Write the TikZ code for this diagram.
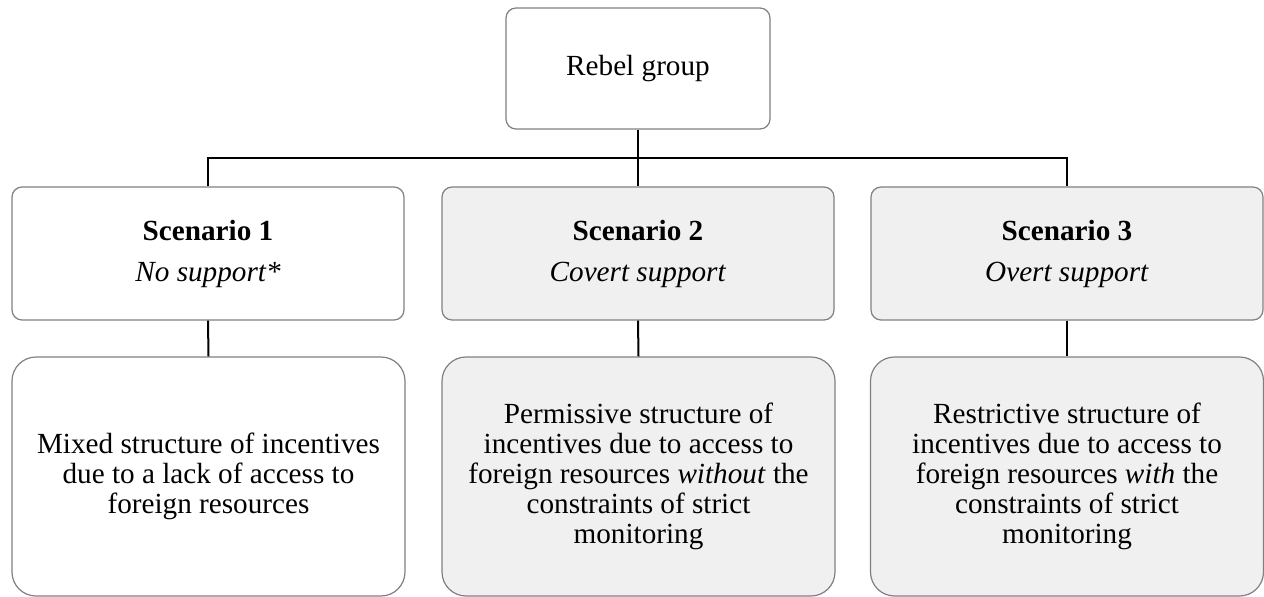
\documentclass[tikz,border=0pt]{standalone}
\usepackage{fontspec}
\setmainfont{Liberation Serif}
\definecolor{boxgray}{HTML}{F0F0F0}
\definecolor{edgegray}{HTML}{808080}
\begin{document}
\begin{tikzpicture}[x=1pt,y=-1pt,
  box/.style={draw=edgegray, line width=1.2pt, rounded corners=10pt, align=center, inner sep=0pt},
  topbox/.style={box, fill=white, minimum width=264pt, minimum height=121pt, font=\fontsize{29.2}{30}\selectfont},
  scen/.style={box, minimum width=392pt, minimum height=133pt, font=\fontsize{29.2}{41}\selectfont},
  desc/.style={box, rounded corners=24pt, minimum width=393pt, minimum height=239pt, font=\fontsize{29.2}{30}\selectfont},
  wfill/.style={fill=white},
  gfill/.style={fill=boxgray},
  conn/.style={draw=black, line width=2pt}]
\useasboundingbox (0,0) rectangle (1264,597);
\node[topbox] (top) at (638,68.5) {Rebel group};
\node[scen,wfill] (s1) at (208,253.5) {\textbf{Scenario 1}\\\textit{No support*}};
\node[scen,gfill] (s2) at (638,253.5) {\textbf{Scenario 2}\\\textit{Covert support}};
\node[scen,gfill] (s3) at (1067,253.5) {\textbf{Scenario 3}\\\textit{Overt support}};
\node[desc,wfill] (d1) at (208.5,476.5) {Mixed structure of incentives\\due to a lack of access to\\foreign resources};
\node[desc,gfill] (d2) at (638.5,476.5) {Permissive structure of\\incentives due to access to\\foreign resources \textit{without} the\\constraints of strict\\monitoring};
\node[desc,gfill] (d3) at (1067,476.5) {Restrictive structure of\\incentives due to access to\\foreign resources \textit{with} the\\constraints of strict\\monitoring};
\coordinate (bL) at (s1.north |- 0,158);
\coordinate (bR) at (s3.north |- 0,158);
\draw[conn] (s1.north) -- (bL) -- (bR) -- (s3.north);
\draw[conn] (top.south) -- (s2.north);
\draw[conn] (s1.south) -- (d1.north);
\draw[conn] (s2.south) -- (d2.north);
\draw[conn] (s3.south) -- (d3.north);
\end{tikzpicture}
\end{document}
